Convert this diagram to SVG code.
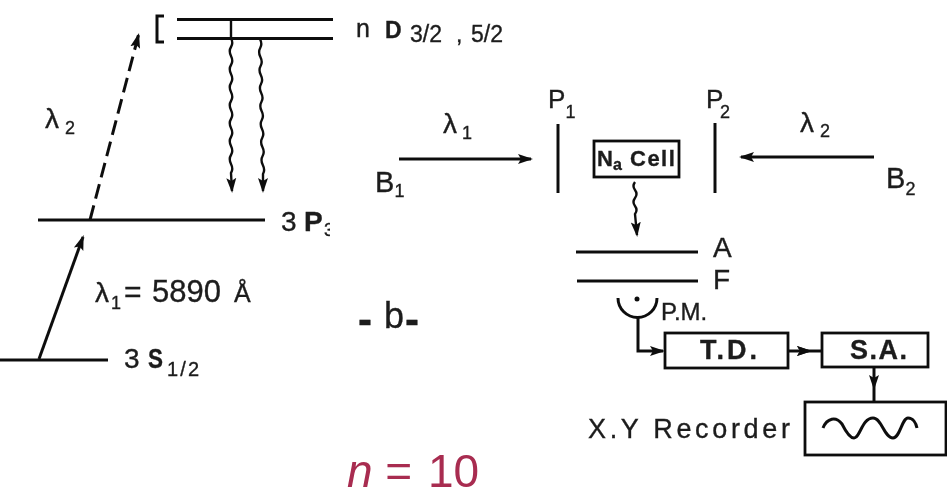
<svg xmlns="http://www.w3.org/2000/svg" width="947" height="489" viewBox="0 0 947 489">
<style>
.t{font-family:"Liberation Sans",Arial,sans-serif;fill:#1c1c1c;stroke:#1c1c1c;stroke-width:.35}
.l{stroke:#111;fill:none;stroke-width:3}
.w{stroke:#111;fill:none;stroke-width:2.4}
.box{stroke:#111;fill:#fff;stroke-width:2.8}
.s{font-size:18px}
.f{font-size:28px}
.p{font-size:26px}
</style>
<defs>
<marker id="a" markerUnits="userSpaceOnUse" markerWidth="16" markerHeight="12" refX="13" refY="6" orient="auto"><path d="M0 1L15 6L0 11L3 6Z" fill="#111"/></marker>
<clipPath id="c3p"><rect x="270" y="200" width="60" height="45"/></clipPath>
<filter id="soft" x="0" y="0" width="1" height="1" filterUnits="objectBoundingBox"><feGaussianBlur stdDeviation="0.5"/></filter>
</defs>
<rect width="947" height="489" fill="#fff"/>
<g filter="url(#soft)">
<rect width="947" height="489" fill="#fff"/>
<g id="connectors">
<path class="l" marker-end="url(#a)" stroke-dasharray="15 7" d="M90 220L138.500 35"/>
<path class="l" marker-end="url(#a)" d="M39 359L83 237"/>
<path class="w" marker-end="url(#a)" d="M231 20V38q2.500 5 0 9t0 9t0 9t0 9t0 9t0 9t0 9t0 9t0 9t0 9t0 9t0 9t0 9t0 9t0 9L232 191"/>
<path class="w" marker-end="url(#a)" d="M260 39q2.500 5 .2 9t.2 9t.2 9t.2 9t.2 9t.2 9t.2 9t.2 9t.2 9t.2 9t.2 9t.2 9t.2 9t.2 9t.2 9L263 191"/>
<path class="l" marker-end="url(#a)" d="M399 159H531"/>
<path class="l" marker-end="url(#a)" d="M874 157H741"/>
<path class="w" marker-end="url(#a)" d="M635 182q-3 4 0 8t0 8t0 8t0 8L637 235"/>
<path class="l" marker-end="url(#a)" d="M638 318V351H663"/>
<path class="l" marker-mid="url(#a)" d="M788 351H810V351H822"/>
<path class="l" marker-mid="url(#a)" d="M874 367V388V402"/>
</g>
<g id="levels">
<path class="l" d="M177 19.500H333M177 38.500H333"/>
<path class="l" d="M164 16H157V42H164"/>
<path class="l" d="M38 220H265"/>
<path class="l" d="M0 360H108"/>
</g>
<g id="label-nd"><text class="t" x="356" y="37" font-size="25">n</text><text class="t" x="385" y="38" font-size="23" font-weight="bold" stroke-width="1">D</text><text class="t" x="410" y="42" font-size="23">3/2 <tspan x="456">,</tspan> <tspan x="471">5/2</tspan></text></g>
<g id="label-l2"><text class="t f" x="45" y="128">λ</text><text class="t s" x="65" y="134">2</text></g>
<g id="label-3p" clip-path="url(#c3p)"><text class="t f" x="281" y="231">3</text><text class="t f" x="304" y="231" font-weight="bold" stroke-width="1">P</text><text class="t s" x="324" y="236">3</text></g>
<g id="label-l1"><text class="t f" x="95" y="302">λ</text><text class="t s" x="111" y="309">1</text><text class="t" x="124" y="302" font-size="30">=</text><text class="t" x="152" y="302" font-size="31">5890</text><text class="t" x="234" y="302" font-size="25">Å</text></g>
<g id="label-3s"><text class="t f" x="124" y="368">3</text><text class="t f" x="148" y="368" font-weight="bold" stroke-width="1" textLength="15" lengthAdjust="spacingAndGlyphs">S</text><text class="t" x="167" y="376" font-size="20" textLength="32">1/2</text></g>
<g id="label-b"><text class="t" x="358" y="334" font-size="42" font-weight="bold">-<tspan x="384" y="328" font-size="36" font-weight="normal">b</tspan><tspan x="405" y="334" font-size="42">-</tspan></text></g>
<g id="b1"><text class="t" x="375" y="192" font-size="29">B</text><text class="t s" x="394.500" y="197">1</text></g>
<g id="lam1"><text class="t f" x="443" y="133">λ</text><text class="t s" x="462" y="139">1</text></g>
<g id="p1"><path class="l" d="M558 124V193"/><text class="t p" x="548" y="108">P</text><text class="t s" x="565.500" y="118">1</text></g>
<g id="p2"><path class="l" d="M715 123V193"/><text class="t p" x="706" y="108">P</text><text class="t s" x="720" y="118">2</text></g>
<g id="lam2"><text class="t f" x="800" y="132">λ</text><text class="t s" x="820" y="137">2</text></g>
<g id="b2"><text class="t" x="886" y="188" font-size="29">B</text><text class="t s" x="905.500" y="195">2</text></g>
<g id="nacell"><rect class="box" x="594" y="141" width="85" height="36"/><text class="t" x="597" y="166" font-size="22" font-weight="bold">N<tspan dy="4" font-size="16">a </tspan><tspan dy="-4" x="630" letter-spacing="1.500">Cell</tspan></text></g>
<g id="a-f"><path class="l" d="M576 252H698M577 281H698"/><text class="t f" x="713" y="257">A</text><text class="t f" x="713" y="289">F</text></g>
<g id="pm"><path class="l" d="M618 298A19.500 19.500 0 0 0 657 298"/><circle cx="637" cy="299" r="2.500" fill="#111"/><text class="t" x="661" y="320" font-size="24">P.M.</text></g>
<g id="td"><rect class="box" x="665" y="333" width="123" height="35"/><text class="t" x="700" y="359" font-size="27" font-weight="bold" textLength="57">T.D.</text></g>
<g id="sa"><rect class="box" x="822" y="333" width="106" height="34"/><text class="t" x="850" y="359" font-size="27" font-weight="bold" textLength="57">S.A.</text></g>
<g id="recorder"><rect class="box" x="805" y="402" width="141" height="53"/><path class="l" stroke-width="2.500" d="M823 428C827 418 836 416 842 424C846 432 850 438 854 438C860 438 862 418 873 418C882 418 884 438 893 438C900 438 902 418 908 418C913 418 916 423 917 428"/><text class="t" x="588" y="438" font-size="27" textLength="202">X.Y Recorder</text></g>
</g>
<g id="caption"><text x="347" y="487" font-family="'Liberation Sans',Arial,sans-serif" font-size="46" fill="#a82c50"><tspan font-style="italic">n</tspan> = <tspan dx="3">10</tspan></text></g>
</svg>
